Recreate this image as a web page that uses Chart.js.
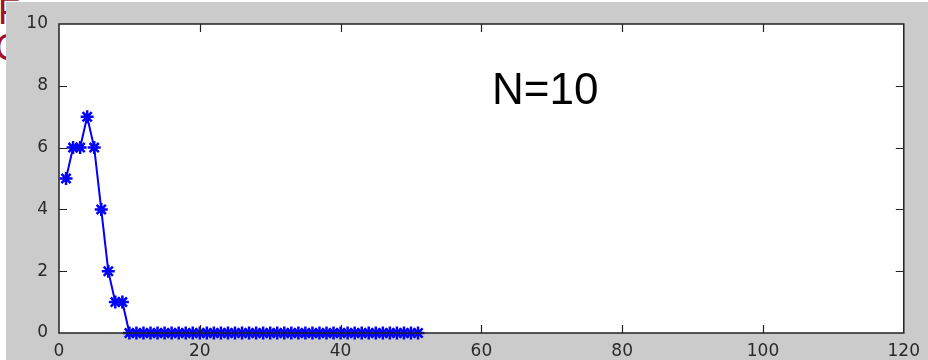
<!DOCTYPE html>
<html>
<head>
<meta charset="utf-8">
<script src="https://cdn.jsdelivr.net/npm/chart.js@4.4.1/dist/chart.umd.min.js"></script>
<style>
  html, body { margin: 0; padding: 0; background: #ffffff; width: 928px; height: 360px; overflow: hidden; }
  .bgtext { position: absolute; color: #a0102c; font-family: "Liberation Sans", Arial, sans-serif; font-size: 36px; line-height: 36px; white-space: nowrap; z-index: 0; }
  #wrap { position: absolute; left: 0; top: 0; width: 928px; height: 360px; z-index: 1; }
</style>
</head>
<body>
<div class="bgtext" style="left:-2px; top:-6px;">F</div>
<div class="bgtext" style="left:-5px; top:30px;">C</div>
<div id="wrap"><canvas id="c" width="928" height="360"></canvas></div>
<script>
// ---- data ----
const xValues = [1,2,3,4,5,6,7,8,9,10,11,12,13,14,15,16,17,18,19,20,21,22,23,24,25,26,27,28,29,30,31,32,33,34,35,36,37,38,39,40,41,42,43,44,45,46,47,48,49,50,51];
const yValues = [5,6,6,7,6,4,2,1,1,0,0,0,0,0,0,0,0,0,0,0,0,0,0,0,0,0,0,0,0,0,0,0,0,0,0,0,0,0,0,0,0,0,0,0,0,0,0,0,0,0,0];
const xTicks = [0,20,40,60,80,100,120];
const yTicks = [0,2,4,6,8,10];
const annotationText = "N=10";
const annotationPos = [61.5, 7.4];

const points = xValues.map((x, i) => ({ x: x, y: yValues[i] }));

const framePlugin = {
  id: 'frame',
  beforeDraw(chart) {
    const ctx = chart.ctx;
    const a = chart.chartArea;
    ctx.save();
    ctx.fillStyle = '#cbcbcb';
    ctx.fillRect(6, 2, chart.width - 6, chart.height - 2);
    ctx.fillStyle = '#ffffff';
    ctx.fillRect(a.left, a.top, a.right - a.left, a.bottom - a.top);
    ctx.restore();
  },
  afterDatasetsDraw(chart) {
    const ctx = chart.ctx;
    const a = chart.chartArea;
    const xs = chart.scales.x, ys = chart.scales.y;
    ctx.save();
    ctx.strokeStyle = '#222222';
    ctx.lineWidth = 1.5;
    ctx.strokeRect(a.left, a.top, a.right - a.left, a.bottom - a.top);
    const tl = 8;
    ctx.lineWidth = 1.2;
    ctx.beginPath();
    xTicks.forEach(v => {
      const px = Math.round(xs.getPixelForValue(v)) + 0.5;
      if (v === xs.min || v === xs.max) return;
      ctx.moveTo(px, a.bottom); ctx.lineTo(px, a.bottom - tl);
      ctx.moveTo(px, a.top); ctx.lineTo(px, a.top + tl);
    });
    yTicks.forEach(v => {
      const py = Math.round(ys.getPixelForValue(v)) + 0.5;
      if (v === ys.min || v === ys.max) return;
      ctx.moveTo(a.left, py); ctx.lineTo(a.left + tl, py);
      ctx.moveTo(a.right, py); ctx.lineTo(a.right - tl, py);
    });
    ctx.stroke();
    // annotation
    ctx.fillStyle = '#000000';
    ctx.font = '44px "Liberation Sans", Arial, sans-serif';
    ctx.textBaseline = 'alphabetic';
    ctx.textAlign = 'left';
    ctx.fillText(annotationText, xs.getPixelForValue(annotationPos[0]), ys.getPixelForValue(annotationPos[1]));
    ctx.restore();
  }
};

new Chart(document.getElementById('c'), {
  type: 'line',
  data: {
    datasets: [{
      data: points,
      borderColor: '#0000ff',
      backgroundColor: '#0000ff',
      borderWidth: 2,
      pointStyle: 'star',
      pointRadius: 6.5,
      pointBorderWidth: 2.5,
      pointBorderColor: '#0000ff',
      tension: 0,
      fill: false,
      clip: false
    }]
  },
  options: {
    responsive: false,
    devicePixelRatio: 1,
    animation: false,
    layout: { padding: { top: 24, right: 24, left: 0, bottom: 0 } },
    plugins: { legend: { display: false }, tooltip: { enabled: false }, title: { display: false } },
    scales: {
      x: {
        type: 'linear',
        min: 0, max: 120,
        afterBuildTicks(s) { s.ticks = xTicks.map(v => ({ value: v })); },
        afterFit(s) { s.height = 27; },
        grid: { display: false, drawTicks: false, tickLength: 0 },
        border: { display: false },
        ticks: { color: '#2a2a2a', padding: 8, maxRotation: 0, autoSkip: false, font: { family: '"DejaVu Sans", sans-serif', size: 17 } }
      },
      y: {
        min: 0, max: 10,
        afterBuildTicks(s) { s.ticks = yTicks.map(v => ({ value: v })); },
        afterFit(s) { s.width = 59; },
        grid: { display: false, drawTicks: false, tickLength: 0 },
        border: { display: false },
        ticks: { color: '#2a2a2a', padding: 11, autoSkip: false, font: { family: '"DejaVu Sans", sans-serif', size: 17 } }
      }
    }
  },
  plugins: [framePlugin]
});
</script>
</body>
</html>
